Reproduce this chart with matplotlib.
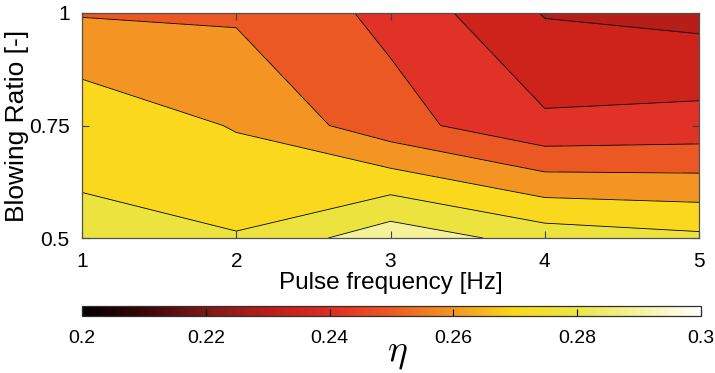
import numpy as np
import matplotlib
matplotlib.use('Agg')
import matplotlib.pyplot as plt
from matplotlib.colors import LinearSegmentedColormap, Normalize
from matplotlib.cm import ScalarMappable

plt.rcParams['font.family'] = ['Liberation Sans', 'DejaVu Sans']
plt.rcParams['mathtext.fontset'] = 'cm'

# Measurement grid
pulse_freq = [1, 2, 3, 4, 5]
blowing_ratio = [0.5, 0.75, 1.0]

# Efficiency eta, one row per blowing ratio
eta_br050 = [0.2717, 0.2707, 0.2863, 0.2758, 0.2722]
eta_br075 = [0.2675, 0.2593, 0.2439, 0.2319, 0.2337]
eta_br100 = [0.2493, 0.2486, 0.2374, 0.2194, 0.2169]

levels = [0.2, 0.22, 0.23, 0.24, 0.25, 0.26, 0.27, 0.28, 0.3]
fill_colors = ['#b81e19', '#ce231b', '#e03226', '#ec5824', '#f39423',
               '#f9d81e', '#ede33e', '#f6f29b']

cbar_ticks = [0.2, 0.22, 0.24, 0.26, 0.28, 0.3]
cbar_labels = ['0.2', '0.22', '0.24', '0.26', '0.28', '0.3']

# colormap for the colorbar (black -> red -> orange -> yellow -> white)
cmap_pts = [(0.0, '#000000'), (0.1, '#3c0505'), (0.2, '#7d1916'),
            (0.3, '#b91e19'), (0.4, '#de2d23'), (0.5, '#ec5a24'),
            (0.6, '#f39623'), (0.7, '#fad819'), (0.8, '#ece646'),
            (0.9, '#f5f2a0'), (1.0, '#ffffff')]
cmap = LinearSegmentedColormap.from_list('eta', cmap_pts)

X, Y = np.meshgrid(pulse_freq, blowing_ratio)
Z = np.array([eta_br050, eta_br075, eta_br100])

fig = plt.figure(figsize=(7.15, 3.73), dpi=100)
ax = fig.add_axes([82/715, 1 - 238/373, 617/715, 225/373])

ax.contourf(X, Y, Z, levels=levels, colors=fill_colors)
ax.contour(X, Y, Z, levels=levels[1:-1], colors='k', linewidths=0.6)

ax.set_xlim(1, 5)
ax.set_ylim(0.5, 1)
ax.set_xticks([1, 2, 3, 4, 5])
ax.set_yticks([0.5, 0.75, 1])
ax.set_yticklabels(['0.5', '0.75', '1'])
ax.tick_params(direction='in', top=True, right=True, labelsize=15,
               length=5, width=0.8, color='#404040')
ax.tick_params(axis='x', pad=10)
ax.tick_params(axis='y', pad=9)
for s in ax.spines.values():
    s.set_color('#505050')
    s.set_linewidth(0.9)
ax.set_xlabel('Pulse frequency [Hz]', fontsize=17.5, labelpad=1)
ax.set_ylabel('Blowing Ratio [-]', fontsize=19, labelpad=0)

cax = fig.add_axes([82/715, 1 - 316/373, 619/715, 10/373])
sm = ScalarMappable(norm=Normalize(0.2, 0.3), cmap=cmap)
cb = fig.colorbar(sm, cax=cax, orientation='horizontal')
cb.set_ticks(cbar_ticks)
cb.set_ticklabels(cbar_labels)
cb.outline.set_edgecolor('#303030')
cb.outline.set_linewidth(0.9)
cax.tick_params(direction='in', length=5, width=0.8, labelsize=14, pad=10)
fig.text(397/715, 1 - 353/373, r'$\eta$', fontsize=27, ha='center', va='center')

fig.savefig('out.png', dpi=100)
